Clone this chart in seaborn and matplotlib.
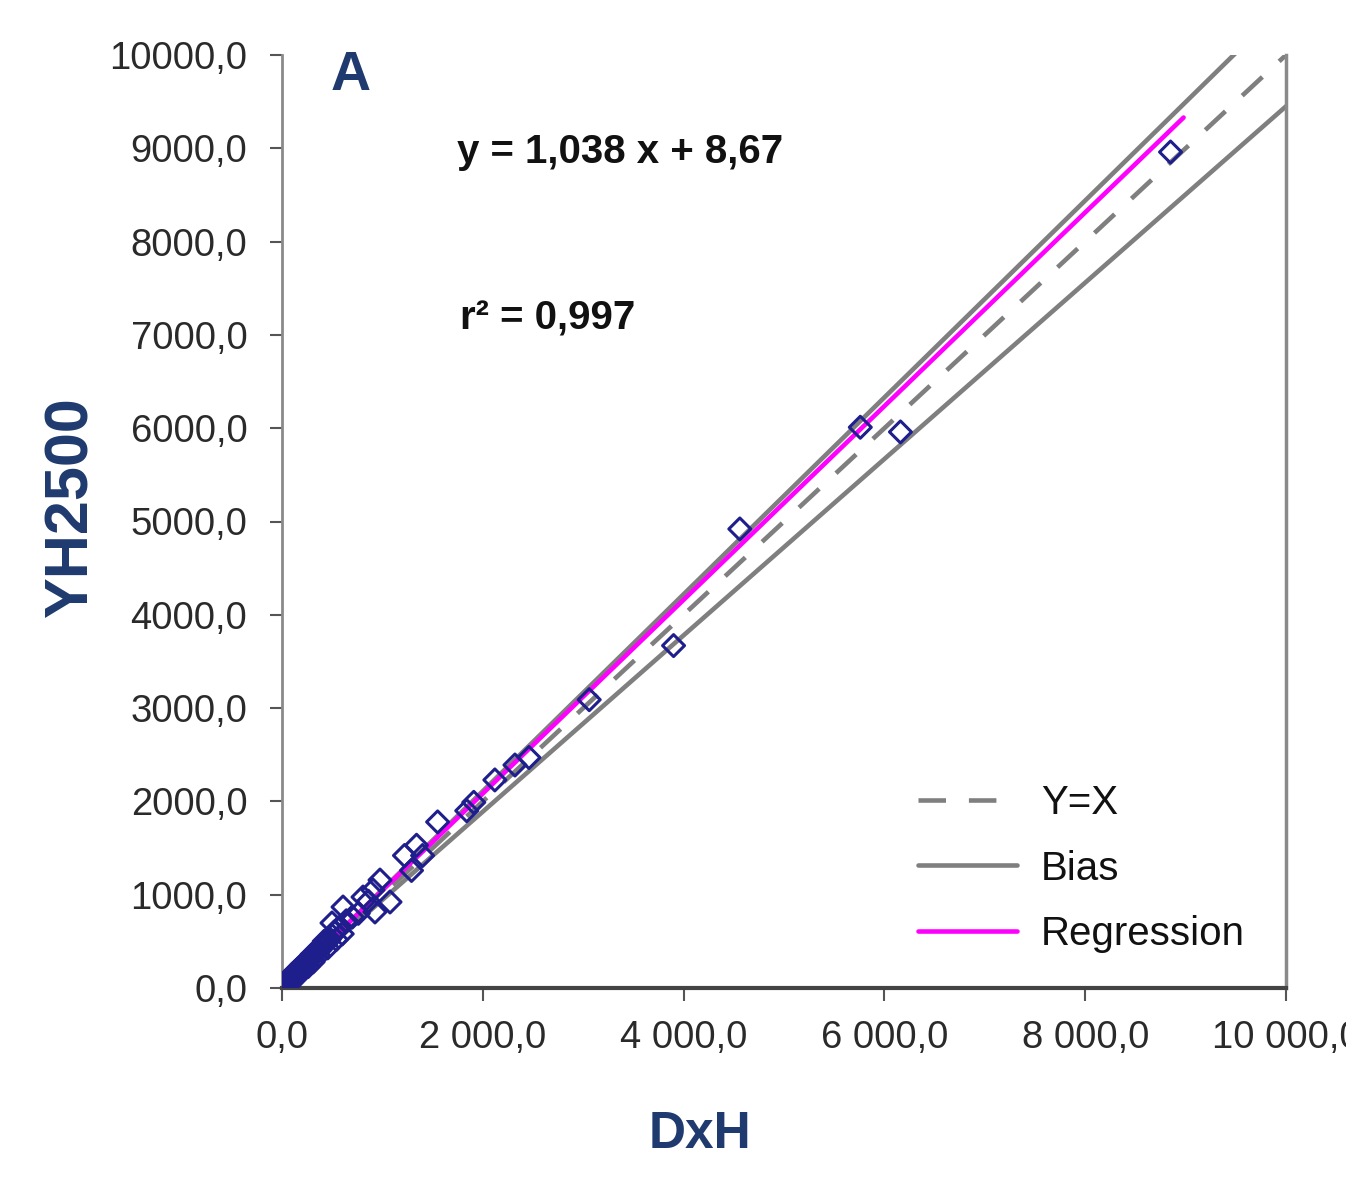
import matplotlib
matplotlib.use("Agg")
import matplotlib.pyplot as plt
import seaborn as sns
import numpy as np
import pandas as pd

# ---------------- data ----------------
dxh = [8850, 5760, 6160, 4560, 3900, 3060, 2460, 2320, 2120, 1910, 1840, 1550,
       1340, 1220, 1290, 1400, 1076, 976, 906, 926, 807, 860, 760, 700, 640, 608,
       560, 520, 498, 470, 440, 410, 380, 350, 320, 295, 270, 250, 230, 210, 190,
       175, 160, 145, 130, 115, 100, 85, 70, 55, 40, 28, 18, 8,
       600, 580, 540, 500, 455, 430, 395, 365, 335, 310, 285, 260, 240, 215, 200,
       180, 165, 150, 135, 120, 105, 90, 75, 60, 45, 30, 15, 5, 420, 360, 300]
yh2500 = [8960, 6010, 5960, 4920, 3670, 3090, 2470, 2390, 2230, 1990, 1900, 1780,
          1530, 1420, 1260, 1420, 922, 1157, 1050, 815, 975, 930, 800, 760, 720, 868,
          640, 600, 697, 520, 480, 460, 410, 380, 350, 320, 300, 275, 240, 225, 200,
          190, 165, 155, 140, 120, 110, 90, 75, 60, 45, 30, 20, 10,
          580, 650, 520, 560, 430, 500, 440, 350, 380, 280, 330, 230, 290, 200, 250,
          160, 210, 120, 180, 100, 150, 60, 110, 40, 80, 10, 50, 30, 500, 420, 360]

reg_slope = 1.038
reg_intercept = 8.67
reg_x_end = 8980
bias_upper = 1.055
bias_lower = 0.945
r2 = 0.997

x_ticks = [0, 2000, 4000, 6000, 8000, 10000]
x_tick_labels = ["0,0", "2 000,0", "4 000,0", "6 000,0", "8 000,0", "10 000,0"]
y_ticks = [0, 1000, 2000, 3000, 4000, 5000, 6000, 7000, 8000, 9000, 10000]
y_tick_labels = ["0,0", "1000,0", "2000,0", "3000,0", "4000,0", "5000,0",
                 "6000,0", "7000,0", "8000,0", "9000,0", "10000,0"]

# ---------------- style ----------------
sns.set_theme(style="white")
FONT = ["Liberation Sans", "DejaVu Sans"]
plt.rcParams["font.family"] = FONT

navy_txt = "#1F3A6E"
marker_col = "#1E1E8C"
gray = "#7F7F7F"
magenta = "#FF00FF"

W, H = 1346, 1177
fig = plt.figure(figsize=(W / 100, H / 100), dpi=100)
ax = fig.add_axes([282 / W, 1 - 988 / H, (1286 - 282) / W, (988 - 55) / H])

df = pd.DataFrame({"DxH": dxh, "YH2500": yh2500})

line_x = np.array([0, 10500])
ident = pd.DataFrame({"x": line_x, "y": line_x * 1.0})
up = pd.DataFrame({"x": line_x, "y": line_x * bias_upper})
lo = pd.DataFrame({"x": line_x, "y": line_x * bias_lower})
reg_x = np.array([0, reg_x_end])
reg = pd.DataFrame({"x": reg_x, "y": reg_slope * reg_x + reg_intercept})

sns.lineplot(data=ident, x="x", y="y", ax=ax, color=gray, lw=3.3,
             label="Y=X", zorder=2)
ax.lines[-1].set_dashes((6, 5))
sns.lineplot(data=up, x="x", y="y", ax=ax, color=gray, lw=3.3, label="Bias", zorder=2)
sns.lineplot(data=lo, x="x", y="y", ax=ax, color=gray, lw=3.3, label="_nolegend_", zorder=2)
sns.lineplot(data=reg, x="x", y="y", ax=ax, color=magenta, lw=3.3,
             label="Regression", zorder=3)

sns.scatterplot(data=df, x="DxH", y="YH2500", ax=ax, marker="D", s=125,
                facecolor="none", edgecolor=marker_col, linewidth=2.2, zorder=4)

ax.set_xlim(0, 10000)
ax.set_ylim(0, 10000)
ax.set_xticks(x_ticks)
ax.set_xticklabels(x_tick_labels)
ax.set_yticks(y_ticks)
ax.set_yticklabels(y_tick_labels)
ax.tick_params(axis="both", which="major", direction="out", length=9, width=1.5,
               color="#555555", labelsize=27.5, labelcolor="#2A2A2A",
               bottom=True, left=True)
ax.tick_params(axis="x", pad=14)
ax.tick_params(axis="y", pad=16)

ax.spines["top"].set_visible(False)
ax.spines["left"].set_color("#8A8A8A")
ax.spines["left"].set_linewidth(2)
ax.spines["bottom"].set_color("#444444")
ax.spines["bottom"].set_linewidth(3)
ax.spines["right"].set_color("#8A8A8A")
ax.spines["right"].set_linewidth(2.5)

ax.set_xlabel("DxH", fontsize=37, fontweight="bold", color=navy_txt, va="center")
ax.xaxis.set_label_coords((700 - 282) / 1004, (988 - 1135) / 933)
ax.set_ylabel("YH2500", fontsize=44, fontweight="bold", color=navy_txt, va="center")
ax.yaxis.set_label_coords((72 - 282) / 1004, (988 - 507) / 933)

ax.text(0.068, 0.978, "A", transform=ax.transAxes, fontsize=40,
        fontweight="bold", color=navy_txt, ha="center", va="center")
ax.text(0.174, 0.896, f"y = {reg_slope:.3f} x + {reg_intercept:.2f}".replace(".", ","),
        transform=ax.transAxes, fontsize=29, fontweight="bold", color="#111111",
        ha="left", va="center")
ax.text(0.177, 0.718, f"r² = {r2:.3f}".replace(".", ","),
        transform=ax.transAxes, fontsize=29, fontweight="bold", color="#111111",
        ha="left", va="center")

leg = ax.legend(loc="upper left", bbox_to_anchor=((902 - 282) / 1004, (988 - 768) / 933),
                frameon=False, fontsize=29, handlelength=2.45, handletextpad=0.6,
                labelspacing=0.68, borderaxespad=0)
for t in leg.get_texts():
    t.set_color("#111111")

fig.savefig("out.png", dpi=100, facecolor="white")
